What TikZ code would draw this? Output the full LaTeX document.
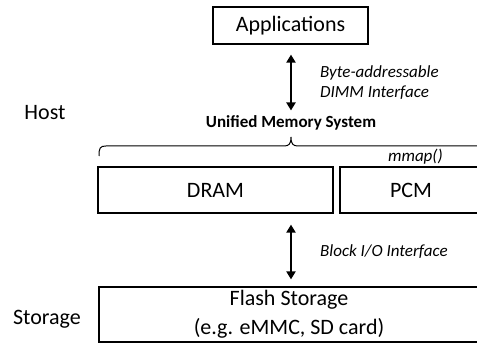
\documentclass[tikz,border=0pt]{standalone}
\usepackage{fontspec}
\setmainfont{Carlito}
\usetikzlibrary{arrows.meta,calc}
\begin{document}
\begin{tikzpicture}[x=1pt,y=-1pt,
  box/.style={draw,line width=1.2pt,rectangle,inner sep=0pt,font=\fontsize{22}{26}\selectfont},
  lbl/.style={inner sep=0pt,font=\fontsize{17}{21}\selectfont\itshape,anchor=west},
  side/.style={inner sep=0pt,font=\fontsize{22}{26}\selectfont},
  dbl/.style={line width=2.2pt,{Triangle[width=9pt,length=8pt]}-{Triangle[width=9pt,length=8pt]}}]
\useasboundingbox (0,0) rectangle (477,352);
\clip (0,0) rectangle (477,352);
\node[box,minimum width=155pt,minimum height=37pt] (app) at (290.5,25.5) {Applications};
\node[inner sep=0pt,font=\fontsize{17}{21}\selectfont\bfseries] (ums) at (291,123) {Unified Memory System};
\node[lbl] (byte) at (320,73) {Byte-addressable};
\node[lbl] (dimm) at (320,93) {DIMM Interface};
\node[side] (host) at (45,113) {Host};
\node[side] (stor) at (47,319) {Storage};
\node[box,minimum width=235pt,minimum height=46pt] (dram) at (215.5,190) {DRAM};
\node[box,minimum width=142pt,minimum height=46pt] (pcm) at (411,190) {PCM};
\node[inner sep=0pt,font=\fontsize{17}{21}\selectfont\itshape,anchor=east] (mmap) at (443,157) {mmap()};
\node[box,minimum width=380pt,minimum height=55pt,align=center,font=\fontsize{22}{29}\selectfont] (flash) at (289,314.5) {Flash Storage\\(e.g. eMMC, SD card)};
\node[lbl] (bio) at (320,252) {Block I/O Interface};
\draw[dbl] ($(app.south -| ums)+(0,10)$) -- ($(ums.north)+(0,-5)$);
\draw[dbl] ($(dram.south -| ums)+(0,11)$) -- ($(flash.north -| ums)+(0,-7)$);
\draw[line width=1pt] (99,156) .. controls (99,148) and (100,146) .. (106,146) -- (284,146) .. controls (289,146) and (291,144) .. (291,137) .. controls (291,144) and (293,146) .. (298,146) -- (490,146);
\end{tikzpicture}
\end{document}
